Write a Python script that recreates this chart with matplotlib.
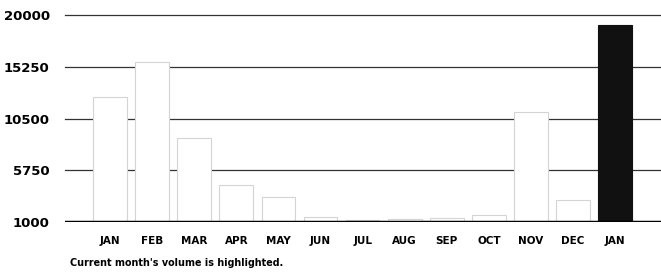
import matplotlib.pyplot as plt
import numpy as np

# Monthly volume (last bar = current month, highlighted)
months = ['JAN', 'FEB', 'MAR', 'APR', 'MAY', 'JUN', 'JUL',
          'AUG', 'SEP', 'OCT', 'NOV', 'DEC', 'JAN']
volume = [12500, 15700, 8700, 4400, 3300, 1500, 1200,
          1300, 1400, 1600, 11100, 3000, 19100]
y_ticks = [1000, 5750, 10500, 15250, 20000]

fig = plt.figure(figsize=(6.61, 2.76), dpi=100)
ax = fig.add_axes([65 / 661, 1 - 222 / 276, 596 / 661, 210 / 276])

index = np.arange(len(months))
colors = ['white'] * (len(months) - 1) + ['#111111']
edges = ['#d4d4d4'] * (len(months) - 1) + ['#111111']
ax.bar(index, volume, 0.8, color=colors, edgecolor=edges, linewidth=0.8, zorder=3)

# gridlines behind the bars
for v in y_ticks[1:]:
    ax.axhline(v, color='#333333', linewidth=0.9, zorder=1, clip_on=False)
ax.axhline(1000, color='black', linewidth=2.5, zorder=4)

ax.set_xlim(-1.07, 13.09)
ax.set_ylim(1000, 20300)
ax.set_yticks(y_ticks)
ax.set_yticklabels([str(v) for v in y_ticks], fontsize=9.5, fontweight='bold')
ax.set_xticks(index)
ax.set_xticklabels(months, fontsize=7.5, fontweight='bold')
ax.tick_params(axis='y', length=0, pad=11)
ax.tick_params(axis='x', length=0, pad=10)
for s in ax.spines.values():
    s.set_visible(False)

fig.text(70 / 661, 1 - 263 / 276, "Current month's volume is highlighted.",
         fontsize=6.9, fontweight='bold', va='center', ha='left')

fig.savefig('out.png', dpi=100)
